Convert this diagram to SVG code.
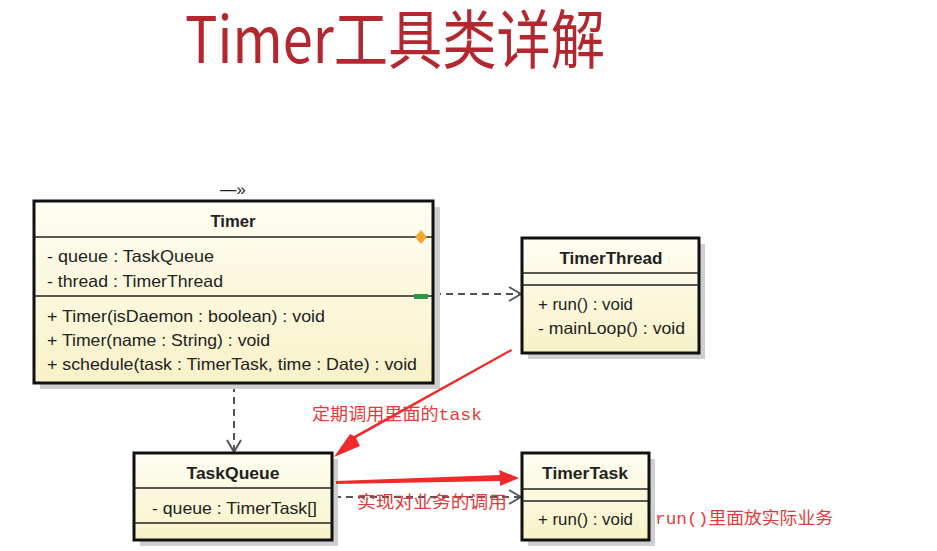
<svg xmlns="http://www.w3.org/2000/svg" width="937" height="551" viewBox="0 0 937 551">
<defs>
<linearGradient id="cream" x1="0" y1="0" x2="0" y2="1">
<stop offset="0" stop-color="#fffef3"/>
<stop offset="1" stop-color="#f8f2c8"/>
</linearGradient>
<marker id="open" viewBox="0 0 14 16" refX="13" refY="8" markerWidth="14" markerHeight="16" markerUnits="userSpaceOnUse" orient="auto">
<path d="M1,1 L13,8 L1,15" fill="none" stroke="#555" stroke-width="2"/>
</marker>
<style>
.box{fill:url(#cream);stroke:#111;stroke-width:3}
.shadow{fill:#cfcfcf}
.sep{stroke:#222;stroke-width:1.6}
.t{font-family:"Liberation Sans",Arial,sans-serif;font-size:16.5px;fill:#222}
.b{font-weight:bold;text-anchor:middle;font-size:16px}
.dash{fill:none;stroke:#555;stroke-width:2;stroke-dasharray:7,5}
.red{font-family:"Liberation Mono","Noto Sans CJK SC",monospace;fill:#e33b3b;font-size:17px}
.redarrow{fill:#ee2a2a}
</style>
</defs>
<rect width="937" height="551" fill="#fff"/>
<text x="185" y="63" font-family="'Noto Sans CJK SC',sans-serif" font-size="64" fill="#b3272f" textLength="420" lengthAdjust="spacingAndGlyphs">Timer工具类详解</text>

<g id="connectors">
<path class="dash" d="M434,294 L521,294" marker-end="url(#open)"/>
<path class="dash" d="M234,385 L234,452" marker-end="url(#open)"/>
<path class="dash" d="M334,497 L521,497" marker-end="url(#open)"/>
</g>

<g id="Timer">
<rect class="shadow" x="40" y="207" width="400" height="182"/>
<rect class="box" x="34" y="201" width="399" height="182"/>
<line class="sep" x1="34" y1="237" x2="433" y2="237"/>
<line class="sep" x1="34" y1="296" x2="433" y2="296"/>
<text class="t" x="220" y="195" font-size="14">—»</text>
<text class="t b" x="233" y="227" textLength="45" lengthAdjust="spacingAndGlyphs">Timer</text>
<text class="t" x="47" y="262" textLength="167" lengthAdjust="spacingAndGlyphs">- queue : TaskQueue</text>
<text class="t" x="47" y="287" textLength="176" lengthAdjust="spacingAndGlyphs">- thread : TimerThread</text>
<text class="t" x="47" y="322" textLength="278" lengthAdjust="spacingAndGlyphs">+ Timer(isDaemon : boolean) : void</text>
<text class="t" x="47" y="346" textLength="223" lengthAdjust="spacingAndGlyphs">+ Timer(name : String) : void</text>
<text class="t" x="47" y="370" textLength="370" lengthAdjust="spacingAndGlyphs">+ schedule(task : TimerTask, time : Date) : void</text>
<path d="M421,230 L427,237 L421,244 L415,237 Z" fill="#f0a830"/>
<rect x="414" y="294" width="14" height="5" fill="#2a9a4a"/>
</g>

<g id="TimerThread">
<rect class="shadow" x="528" y="244" width="177" height="115"/>
<rect class="box" x="522" y="238" width="177" height="115"/>
<line class="sep" x1="522" y1="273" x2="699" y2="273"/>
<line class="sep" x1="522" y1="285" x2="699" y2="285"/>
<text class="t b" x="611" y="264" textLength="103" lengthAdjust="spacingAndGlyphs">TimerThread</text>
<text class="t" x="538" y="310" textLength="95" lengthAdjust="spacingAndGlyphs">+ run() : void</text>
<text class="t" x="538" y="334" textLength="147" lengthAdjust="spacingAndGlyphs">- mainLoop() : void</text>
</g>

<g id="TaskQueue">
<rect class="shadow" x="140" y="459" width="198" height="87"/>
<rect class="box" x="134" y="453" width="198" height="87"/>
<line class="sep" x1="134" y1="488" x2="332" y2="488"/>
<line class="sep" x1="134" y1="523" x2="332" y2="523"/>
<text class="t b" x="233" y="479" textLength="93" lengthAdjust="spacingAndGlyphs">TaskQueue</text>
<text class="t" x="152" y="514" textLength="165" lengthAdjust="spacingAndGlyphs">- queue : TimerTask[]</text>
</g>

<g id="TimerTask">
<rect class="shadow" x="528" y="459" width="127" height="87"/>
<rect class="box" x="522" y="453" width="127" height="87"/>
<line class="sep" x1="522" y1="489" x2="649" y2="489"/>
<line class="sep" x1="522" y1="501" x2="649" y2="501"/>
<text class="t b" x="585" y="479" textLength="86" lengthAdjust="spacingAndGlyphs">TimerTask</text>
<text class="t" x="538" y="525" textLength="95" lengthAdjust="spacingAndGlyphs">+ run() : void</text>
</g>

<g id="annotations">
<polygon class="redarrow" points="511,349 512,351 356,438 360,446 334,457 350,434 354,436"/>
<polygon class="redarrow" points="336,481 500,475 499,470 519,478 500,486 500,481 336,484"/>
<text class="red" x="312" y="420" textLength="170" lengthAdjust="spacingAndGlyphs">定期调用里面的task</text>
<text class="red" x="357" y="508" font-size="18" textLength="150" lengthAdjust="spacingAndGlyphs" font-family="'Noto Sans CJK SC',sans-serif">实现对业务的调用</text>
<text class="red" x="655" y="524" textLength="178" lengthAdjust="spacingAndGlyphs">run()里面放实际业务</text>
</g>
</svg>
